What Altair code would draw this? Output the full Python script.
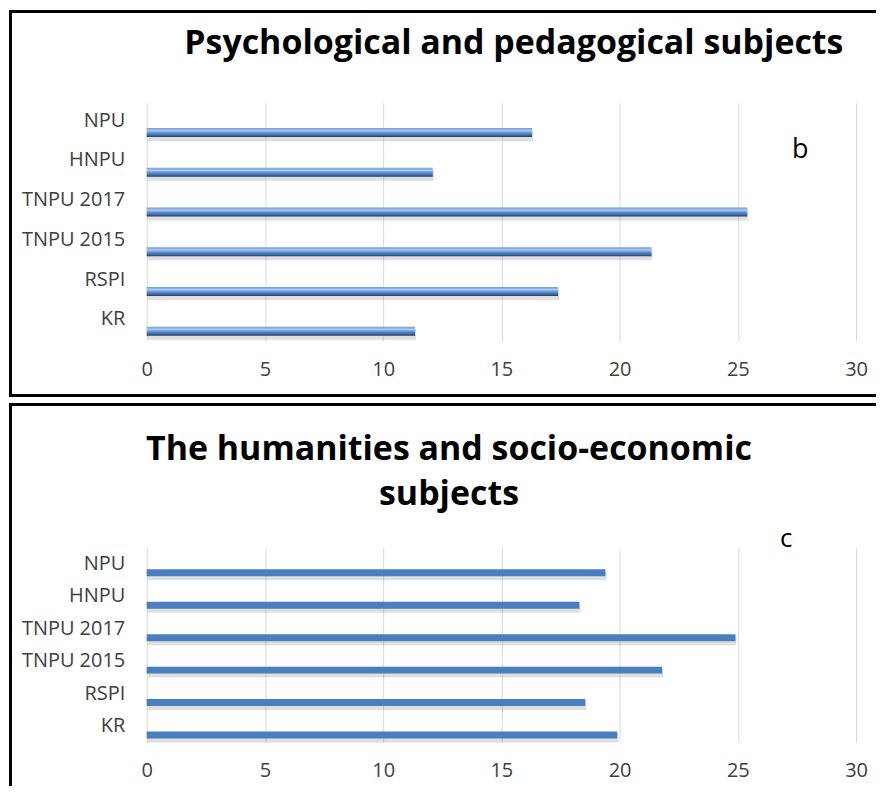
import altair as alt
import pandas as pd

# ---- data ----
categories = ["NPU", "HNPU", "TNPU 2017", "TNPU 2015", "RSPI", "KR"]
psych_values = [16.3, 12.1, 25.4, 21.35, 17.4, 11.35]
hum_values = [19.4, 18.3, 24.9, 21.8, 18.55, 19.9]
x_ticks = [0, 5, 10, 15, 20, 25, 30]
title_top = "Psychological and pedagogical subjects"
title_bottom = ["The humanities and socio-economic", "subjects"]
letter_top = "b"
letter_bottom = "c"

FONT = "Open Sans"
W = 711
H_TOP = 239
H_BOT = 195
RIGHT = 731  # right end of the frame lines (keeps the page from overflowing)


def one():
    return alt.Data(values=[{"k": 0}])


def frame_line(x, x2, y, y2, color="black"):
    # filled rectangle used as a panel frame line (exact bounds, no stroke)
    return alt.Chart(one()).mark_rect(color=color).encode(
        x=alt.value(x), x2=alt.value(x2), y=alt.value(y), y2=alt.value(y2)
    )


def encodings(ylab_offset):
    xenc = alt.X(
        "val:Q",
        scale=alt.Scale(domain=[0, 30], nice=False, zero=True),
        axis=alt.Axis(
            values=x_ticks, grid=True, gridColor="#d9d9d9", gridWidth=1,
            domain=False, ticks=False, tickSize=0, labelPadding=18,
            labelFontSize=20, labelFont=FONT, labelColor="#404040",
            labelFlush=False, labelOverlap=False, title=None, format="d",
        ),
    )
    yenc = alt.Y(
        "cat:N",
        sort=categories,
        scale=alt.Scale(paddingInner=0, paddingOuter=0),
        axis=alt.Axis(
            domain=False, ticks=False, tickSize=0, grid=False, labelPadding=22,
            labelOffset=ylab_offset,
            labelFontSize=20, labelFont=FONT, labelColor="#404040", title=None,
        ),
    )
    return xenc, yenc


top_gradient = alt.LinearGradient(
    gradient="linear",
    stops=[
        alt.GradientStop(color="#6f9dd8", offset=0),
        alt.GradientStop(color="#a8c8ef", offset=0.3),
        alt.GradientStop(color="#5f8fd0", offset=0.55),
        alt.GradientStop(color="#3e6ba8", offset=0.8),
        alt.GradientStop(color="#1f3a5f", offset=1),
    ],
    x1=0, x2=0, y1=0, y2=1,
)


def bars(values, size, off, fill, ylab_offset):
    df = pd.DataFrame({"cat": categories, "val": values})
    xenc, yenc = encodings(ylab_offset)
    shadow = alt.Chart(df).mark_bar(
        color="#7f7f7f", opacity=0.25, size=size + 2, yOffset=off + 3, xOffset=1
    ).encode(x=xenc, y=yenc)
    main = alt.Chart(df).mark_bar(color=fill, size=size, yOffset=off).encode(x=xenc, y=yenc)
    return shadow, main


# ---- top panel ----
s1, b1 = bars(psych_values, 9, 10, top_gradient, -2)
top_title = alt.Chart(one()).mark_text(
    text=title_top, font=FONT, fontSize=34, fontWeight="bold", color="black",
    align="center", baseline="alphabetic",
).encode(x=alt.value(368), y=alt.value(-49))
top_letter = alt.Chart(one()).mark_text(
    text=letter_top, font=FONT, fontSize=27, color="black",
    align="center", baseline="alphabetic",
).encode(x=alt.value(655), y=alt.value(55))

top = alt.layer(
    frame_line(-138, RIGHT, -93, -90),
    frame_line(-138, -135, -93, 295),
    frame_line(-138, RIGHT, 292, 295),
    s1, b1, top_title, top_letter,
).properties(width=W, height=H_TOP)

# ---- bottom panel ----
s2, b2 = bars(hum_values, 7, 9, "#4a7ebf", 0)
bot_title = alt.Chart(one()).mark_text(
    text=title_bottom, font=FONT, fontSize=34, fontWeight="bold", color="black",
    align="center", baseline="alphabetic", lineHeight=45,
).encode(x=alt.value(303), y=alt.value(-88))
bot_letter = alt.Chart(one()).mark_text(
    text=letter_bottom, font=FONT, fontSize=26, color="black",
    align="center", baseline="alphabetic",
).encode(x=alt.value(641), y=alt.value(-1))

bottom = alt.layer(
    frame_line(-138, RIGHT, -145, -142),
    frame_line(-138, -135, -145, 239),
    s2, b2, bot_title, bot_letter,
).properties(width=W, height=H_BOT)

chart = (
    alt.vconcat(top, bottom, spacing=4)
    .properties(padding=0, background="white")
    .configure_view(stroke="transparent")
)

chart.save("out.html", embed_options={"renderer": "svg", "actions": False})
